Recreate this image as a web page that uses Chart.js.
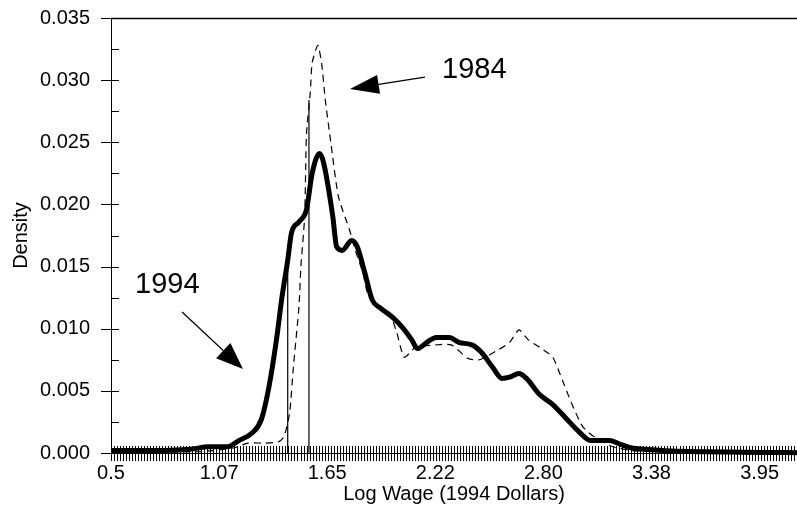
<!DOCTYPE html>
<html>
<head>
<meta charset="utf-8">
<script src="https://cdn.jsdelivr.net/npm/chart.js@4/dist/chart.umd.min.js"></script>
<style>
  body { margin: 0; background: #fff; }
  #wrap { width: 797px; height: 514px; }
</style>
</head>
<body>
<div id="wrap"><canvas id="densityChart" width="797" height="514"></canvas></div>
<script>
// Log wage density, 1994 (solid) and 1984 (dashed)
var wage1994 = [0.5, 0.7, 0.92, 1.02, 1.12, 1.18, 1.25, 1.30, 1.34, 1.38, 1.41, 1.44, 1.46, 1.50, 1.54,
  1.57, 1.61, 1.63, 1.68, 1.70, 1.73, 1.78, 1.81, 1.85, 1.89, 1.93, 2.00, 2.05, 2.10, 2.13, 2.18, 2.23,
  2.30, 2.35, 2.42, 2.47, 2.53, 2.58, 2.62, 2.67, 2.71, 2.78, 2.85, 2.92, 2.99, 3.05, 3.15, 3.21, 3.27,
  3.34, 3.48, 3.67, 3.95, 4.15];
var dens1994 = [0.0002, 0.0002, 0.0003, 0.0005, 0.0005, 0.0010, 0.0016, 0.0027, 0.0053, 0.0091, 0.0126,
  0.0155, 0.0177, 0.0186, 0.0196, 0.0225, 0.0241, 0.0234, 0.0190, 0.0166, 0.0163, 0.0171, 0.0166, 0.0145,
  0.0123, 0.0117, 0.0109, 0.0101, 0.0091, 0.0084, 0.0089, 0.0093, 0.0093, 0.0089, 0.0087, 0.0081, 0.0069,
  0.0060, 0.0061, 0.0064, 0.0060, 0.0047, 0.0039, 0.0028, 0.0017, 0.0010, 0.0010, 0.0007, 0.0004, 0.0003,
  0.00016, 0.0001, 0.00005, 0.00003];

var wage1984 = [0.5, 0.97, 1.15, 1.23, 1.32, 1.39, 1.42, 1.45, 1.47, 1.50, 1.51, 1.53, 1.54, 1.56, 1.57,
  1.60, 1.62, 1.64, 1.67, 1.71, 1.77, 1.80, 1.84, 1.87, 1.93, 1.98, 2.02, 2.06, 2.12, 2.23, 2.31, 2.40,
  2.46, 2.56, 2.62, 2.67, 2.72, 2.79, 2.85, 2.90, 2.95, 3.01, 3.08, 3.17, 3.27, 3.42, 4.15];
var dens1984 = [0.0001, 0.0001, 0.0004, 0.0008, 0.0008, 0.0009, 0.0013, 0.0032, 0.0069, 0.0118, 0.0150,
  0.0190, 0.0257, 0.0290, 0.0314, 0.0328, 0.0314, 0.0284, 0.0249, 0.0206, 0.0179, 0.0163, 0.0145, 0.0126,
  0.0118, 0.0113, 0.0097, 0.0077, 0.0085, 0.0087, 0.0087, 0.0076, 0.0075, 0.0083, 0.0089, 0.0099, 0.0091,
  0.0084, 0.0077, 0.0059, 0.0040, 0.0021, 0.0012, 0.0005, 0.0002, 0.0001, 0.00003];

// minimum wage lines: 1994 and 1984 (log 1994 dollars) and the height they reach
var minWageX = [1.44, 1.553];
var minWageTop = [0.0155, 0.0284];

var xTickValues = [0.5, 1.075, 1.65, 2.225, 2.8, 3.375, 3.95];
var xTickLabels = ['0.5', '1.07', '1.65', '2.22', '2.80', '3.38', '3.95'];

// rug spacing along the axis
var rugStep = 0.016;

function toPoints(xs, ys) {
  var pts = [];
  for (var i = 0; i < xs.length; i++) pts.push({ x: xs[i], y: ys[i] });
  return pts;
}

function drawArrow(ctx, x0, y0, x1, y1, headLen, headWidth) {
  var ang = Math.atan2(y1 - y0, x1 - x0);
  var bx = x1 - headLen * Math.cos(ang), by = y1 - headLen * Math.sin(ang);
  ctx.beginPath();
  ctx.moveTo(x0, y0);
  ctx.lineTo(bx, by);
  ctx.lineWidth = 1.2;
  ctx.stroke();
  ctx.beginPath();
  ctx.moveTo(x1, y1);
  ctx.lineTo(bx + headWidth / 2 * Math.sin(ang), by - headWidth / 2 * Math.cos(ang));
  ctx.lineTo(bx - headWidth / 2 * Math.sin(ang), by + headWidth / 2 * Math.cos(ang));
  ctx.closePath();
  ctx.fill();
}

var decorations = {
  id: 'decorations',
  beforeDatasetsDraw: function (chart) {
    var ctx = chart.ctx, xs = chart.scales.x, ys = chart.scales.y;
    var left = xs.getPixelForValue(xs.min), right = chart.width;
    var bottom = ys.getPixelForValue(0), top = ys.getPixelForValue(ys.max);
    ctx.save();
    ctx.strokeStyle = '#000';
    ctx.lineWidth = 1;

    // rug of observations along the x axis
    ctx.beginPath();
    for (var v = xs.min; v <= xs.max; v += rugStep) {
      var px = Math.round(xs.getPixelForValue(v)) + 0.5;
      ctx.moveTo(px, bottom - 7);
      ctx.lineTo(px, bottom + 8);
    }
    ctx.stroke();

    // y axis tick marks (major crossing, minor inside)
    ctx.beginPath();
    for (var k = 0; k <= 14; k++) {
      var py = Math.round(ys.getPixelForValue(k * 0.0025)) + 0.5;
      ctx.moveTo(k % 2 === 0 ? left - 10 : left, py);
      ctx.lineTo(left + 8, py);
    }
    ctx.stroke();

    // top frame
    ctx.beginPath();
    ctx.moveTo(left, Math.round(top) + 0.5);
    ctx.lineTo(right, Math.round(top) + 0.5);
    ctx.lineWidth = 1.5;
    ctx.stroke();
    ctx.restore();
  },
  afterDatasetsDraw: function (chart) {
    var ctx = chart.ctx, xs = chart.scales.x, ys = chart.scales.y;
    function X(v) { return xs.getPixelForValue(v); }
    function Y(v) { return ys.getPixelForValue(v); }
    ctx.save();
    ctx.fillStyle = '#000';
    ctx.strokeStyle = '#000';
    ctx.font = '29px "Liberation Sans", Arial, sans-serif';
    ctx.textAlign = 'left';
    ctx.textBaseline = 'alphabetic';
    ctx.fillText('1994', X(0.628), Y(0.01287));
    ctx.fillText('1984', X(2.261), Y(0.03017));
    drawArrow(ctx, X(0.878), Y(0.01134), X(1.202), Y(0.00676), 27, 21);
    drawArrow(ctx, X(2.170), Y(0.03025), X(1.771), Y(0.02929), 29, 19);
    ctx.restore();
  }
};

Chart.defaults.font.family = '"Liberation Sans", Arial, sans-serif';
Chart.defaults.font.size = 20;
Chart.defaults.color = '#000';

var minWageSets = minWageX.map(function (mx, i) {
  return {
    data: [{ x: mx, y: 0 }, { x: mx, y: minWageTop[i] }],
    borderColor: '#000',
    borderWidth: 1.2,
    pointRadius: 0
  };
});

var ctx = document.getElementById('densityChart').getContext('2d');
var chart = new Chart(ctx, {
  type: 'line',
  data: {
    datasets: [{
      label: '1994',
      data: toPoints(wage1994, dens1994),
      borderColor: '#000',
      borderWidth: 5,
      pointRadius: 0,
      cubicInterpolationMode: 'monotone',
      clip: false
    }, {
      label: '1984',
      data: toPoints(wage1984, dens1984),
      borderColor: '#000',
      borderWidth: 1.2,
      borderDash: [7, 5],
      pointRadius: 0,
      tension: 0.2,
      clip: false
    }].concat(minWageSets)
  },
  options: {
    responsive: false,
    animation: false,
    devicePixelRatio: 1,
    layout: { autoPadding: false, padding: { top: 18, right: 0, bottom: 0, left: 0 } },
    plugins: { legend: { display: false }, tooltip: { enabled: false } },
    scales: {
      x: {
        type: 'linear',
        min: 0.5,
        max: 4.149,
        afterBuildTicks: function (scale) {
          scale.ticks = xTickValues.map(function (v) { return { value: v }; });
        },
        afterFit: function (scale) {
          scale.height = 61;
          scale.paddingLeft = 0;
          scale.paddingRight = 0;
        },
        grid: { display: false },
        border: { display: true, color: '#000', width: 1 },
        ticks: {
          autoSkip: false,
          maxRotation: 0,
          padding: 0,
          callback: function (value, index) { return xTickLabels[index]; }
        },
        title: { display: true, text: 'Log Wage (1994 Dollars)', padding: { top: 0, bottom: 8 } }
      },
      y: {
        min: 0,
        max: 0.035,
        afterFit: function (scale) {
          scale.width = 111;
          scale.paddingTop = 0;
          scale.paddingBottom = 0;
        },
        grid: { display: false },
        border: { display: true, color: '#000', width: 1 },
        ticks: {
          stepSize: 0.005,
          padding: 13,
          callback: function (value) { return value.toFixed(3); }
        },
        title: { display: true, text: 'Density', padding: { top: 9, bottom: 0 } }
      }
    }
  },
  plugins: [decorations]
});
</script>
</body>
</html>
